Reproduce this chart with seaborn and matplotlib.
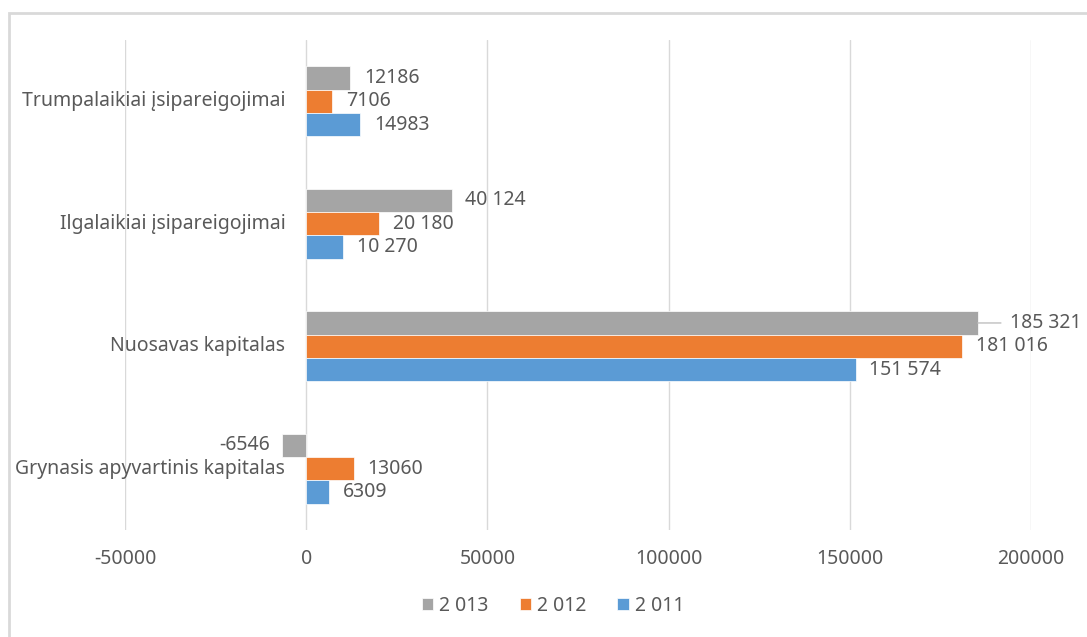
import matplotlib
matplotlib.use("Agg")
import matplotlib.pyplot as plt
from matplotlib.patches import Rectangle
import seaborn as sns
import pandas as pd

# Balance sheet indicators, thousands
categories = [
    "Trumpalaikiai įsipareigojimai",
    "Ilgalaikiai įsipareigojimai",
    "Nuosavas kapitalas",
    "Grynasis apyvartinis kapitalas",
]
years = ["2 013", "2 012", "2 011"]
values_2013 = [12186, 40124, 185321, -6546]
values_2012 = [7106, 20180, 181016, 13060]
values_2011 = [14983, 10270, 151574, 6309]
# categories whose value labels use a space as thousands separator
spaced_labels = [False, True, True, False]
x_ticks = [-50000, 0, 50000, 100000, 150000, 200000]

colors = ["#A5A5A5", "#ED7D31", "#5B9BD5"]
text_color = "#595959"
grid_color = "#D9D9D9"
fs = 14

series = [values_2013, values_2012, values_2011]
df = pd.DataFrame(
    [(c, y, v) for y, vals in zip(years, series) for c, v in zip(categories, vals)],
    columns=["category", "year", "value"],
)

sns.set_theme(style="white")
plt.rcParams["font.family"] = ["Noto Sans", "DejaVu Sans"]

fig = plt.figure(figsize=(10.87, 6.37), dpi=100)
W, H = 1087, 637
ax = fig.add_axes([125 / W, 1 - 530 / H, (1031 - 125) / W, (530 - 40) / H])

sns.barplot(
    data=df, y="category", x="value", hue="year", order=categories,
    hue_order=years, palette=colors, orient="h", width=0.57,
    saturation=1, ax=ax, errorbar=None, legend=True, linewidth=0.5,
)

ax.set_xlim(-50000, 200000)
ax.set_ylim(3.5, -0.5)
ax.set_xticks(x_ticks)
ax.set_xticklabels([str(t) for t in x_ticks], color=text_color, fontsize=fs)
ax.tick_params(axis="x", length=0, pad=14)
ax.set_yticks([])
ax.set_xlabel("")
ax.set_ylabel("")
ax.grid(axis="x", color=grid_color, linewidth=1)
ax.set_axisbelow(True)
for s in ax.spines.values():
    s.set_visible(False)

# category labels sit just left of the zero line
for i, cat in enumerate(categories):
    ax.annotate(cat, xy=(0, i), xytext=(-15, 0), textcoords="offset points",
                ha="right", va="center", fontsize=fs, color=text_color)

# value labels
bar_h = 0.57 / 3
for j, vals in enumerate(series):
    for i, v in enumerate(vals):
        yc = i - 0.57 / 2 + bar_h * (j + 0.5)
        label = f"{v:,}".replace(",", " ") if spaced_labels[i] else str(v)
        if v < 0:
            ax.annotate(label, xy=(v, yc), xytext=(-9, 0), textcoords="offset points",
                        ha="right", va="center", fontsize=fs, color=text_color)
        elif v > 183000:
            ax.annotate(label, xy=(v, yc), xytext=(23, 0), textcoords="offset points",
                        ha="left", va="center", fontsize=fs, color=text_color,
                        arrowprops=dict(arrowstyle="-", color="#BFBFBF", lw=1,
                                        shrinkA=4, shrinkB=0))
        else:
            ax.annotate(label, xy=(v, yc), xytext=(10, 0), textcoords="offset points",
                        ha="left", va="center", fontsize=fs, color=text_color)

# legend along the bottom
handles, labels = ax.get_legend_handles_labels()
ax.legend(handles, labels, loc="center", bbox_to_anchor=(553 / W, 1 - 606 / H),
          bbox_transform=fig.transFigure, ncol=3, frameon=False,
          handlelength=0.6, handleheight=0.6, handletextpad=0.3,
          columnspacing=1.6, fontsize=fs, labelcolor=text_color)

# chart border
fig.patches.append(Rectangle((9 / W, -0.05), 1.2, 1 - 13 / H + 0.05,
                             transform=fig.transFigure, fill=False,
                             edgecolor=grid_color, linewidth=2))

fig.savefig("out.png", dpi=100)
